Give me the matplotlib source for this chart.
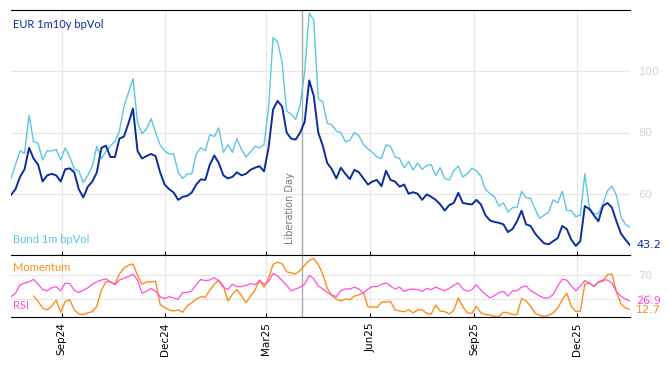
import numpy as np
import pandas as pd
import matplotlib
matplotlib.use("Agg")
import matplotlib.pyplot as plt
import matplotlib.dates as mdates

# sample dates (every 4 days)
dates = pd.date_range("2024-07-18", periods=138, freq="4D")

eur_vol = [59.6, 61.5, 65.5, 68, 75, 71.5, 69.5, 64, 66, 66.5,
           66, 64, 68, 68.3, 67, 61.5, 58.8, 62.3, 64, 67,
           75, 75.7, 72, 72, 78, 78.7, 83, 87.8, 74, 71.5,
           72.3, 73, 72.3, 67, 63, 61.5, 60.4, 58, 59, 59.3,
           60.4, 63, 64.7, 64.5, 69.5, 72.5, 70, 66, 65, 65.5,
           67, 66, 66.5, 67.8, 68.5, 69, 67.3, 75, 87.5, 90.3,
           88.5, 80, 78, 77.7, 80, 83.5, 97, 92, 80, 75.7,
           70, 68, 65, 68.5, 66.5, 64.8, 67.8, 67, 65, 63,
           64, 64.5, 62.5, 67.5, 64.5, 64, 62.3, 63, 60, 60.5,
           60, 58, 59.8, 59, 58, 56.5, 54.5, 56.3, 57, 60.3,
           57, 56.7, 56.5, 58, 56.5, 53, 51.3, 50.8, 50.5, 50,
           47.5, 48.5, 51, 54.5, 50, 49.5, 47, 45.3, 43.8, 43.5,
           44.5, 45.5, 49.5, 48.5, 45, 43, 44.5, 56, 55, 53,
           51, 56, 57, 55.5, 51, 47, 45, 43.2]

bund_vol = [65, 69.5, 74, 73.2, 85.6, 77, 76.5, 71, 74, 74,
            74.5, 71, 75, 72, 68, 67.5, 63.7, 66, 69, 75.5,
            71.4, 73.8, 75.7, 77, 80.5, 88.5, 93, 97.6, 83.4, 79.6,
            81.2, 84.5, 80, 76, 74, 73, 73, 67, 65, 66.5,
            66.5, 73, 75, 74, 79.3, 78.7, 81.5, 73.5, 76, 73.5,
            78, 74.5, 72, 73.6, 75.5, 75, 76, 88, 111, 109.6,
            103, 87, 86, 84.3, 89, 100, 119, 116.7, 91, 90,
            83, 82.5, 80.5, 80, 77, 77.5, 80, 79, 76, 74.6,
            73.5, 72, 71.5, 76, 75.5, 72, 71.5, 68.5, 70.5, 67.8,
            70, 68, 69.2, 69.5, 66, 68.5, 65, 64.5, 67.5, 69,
            65.5, 66.5, 68.3, 67.5, 65.7, 61.5, 60, 59, 56, 57,
            54, 55.5, 55.5, 60.8, 58.7, 58.5, 55, 52, 53, 54,
            58, 57, 60.8, 54.5, 54.5, 52.5, 53, 66.5, 55.5, 53.5,
            53.5, 56.5, 61, 62.5, 59.5, 52.5, 50, 49]

rsi = [34, 40, 54, 57, 59, 63, 55, 46, 44, 49,
       51, 44, 57, 56, 45, 41, 45, 49, 55, 59,
       62, 64, 59, 54, 62, 65, 68, 72, 62, 40,
       43, 48, 43, 34, 31, 34, 32, 30, 41, 41,
       44, 54, 63, 61, 62, 66, 60, 50, 46, 55,
       51, 51, 53, 56, 54, 61, 55, 59, 73, 69,
       61, 53, 44, 47, 50, 55, 70, 64, 52, 47,
       41, 37, 34, 44, 47, 47, 50, 47, 40, 47,
       51, 51, 55, 57, 52, 47, 50, 43, 46, 47,
       46, 43, 48, 46, 50, 47, 44, 48, 53, 57,
       47, 43, 46, 54, 45, 38, 32, 36, 41, 43,
       35, 44, 44, 50, 52, 44, 40, 35, 32, 32,
       38, 52, 63, 62, 52, 44, 52, 61, 57, 51,
       59, 62, 62, 57, 42, 35, 30, 26.9]

momentum = [np.nan, np.nan, np.nan, np.nan, np.nan, 35, 26, 15, 12, 18,
            28, 8, 26, 29, 12, 5, 4, 7, 9, 18,
            45, 59, 59, 55, 72, 82, 87, 89, 70, 55,
            59, 59, 60, 21, 16, 12, 10, 12, 8, 19,
            24, 30, 34, 33, 45, 55, 62, 52, 27, 38,
            46, 36, 24, 35, 45, 62, 50, 65, 88, 92,
            89, 76, 74, 72, 78, 87, 95, 98, 88, 72,
            48, 36, 30, 27, 30, 29, 35, 37, 41, 17,
            17, 16, 25, 25, 26, 12, 10, 9, 12, 7,
            12, 12, 6, 5, 20, 10, 9, 5, 11, 32,
            17, 7, 6, 18, 7, 4, 3, 1, 1, 8,
            7, 4, 4, 31, 27, 18, 6, 3, 1, 3,
            7, 15, 29, 40, 18, 9, 10, 55, 57, 52,
            58, 60, 71, 72, 42, 22, 15, 12.7]

event_date = pd.Timestamp("2025-04-02")

c_eur = "#0b2d9e"
c_bund = "#5cc6e0"
c_mom = "#ff8c1a"
c_rsi = "#ff4fd6"
c_grid = "#e6e6e6"
c_lab = "#d4d4d4"
txt_font = ["Lato", "DejaVu Sans"]

fig = plt.figure(figsize=(6.68, 3.66), dpi=100)
ax = fig.add_axes([11 / 668, 111 / 366, 619 / 668, 245 / 366])
ax2 = fig.add_axes([11 / 668, 49 / 366, 619 / 668, 62 / 366], sharex=ax)

ax.plot(dates, bund_vol, color=c_bund, lw=1.0)
ax.plot(dates, eur_vol, color=c_eur, lw=1.4)
ax2.plot(dates, momentum, color=c_mom, lw=1.0)
ax2.plot(dates, rsi, color=c_rsi, lw=0.9)

for a in (ax, ax2):
    a.axvline(event_date, color="#aaaaaa", lw=1.0, zorder=1)
    a.grid(True, color=c_grid, lw=0.8)
    a.set_axisbelow(True)
    a.spines["left"].set_visible(False)
    a.spines["right"].set_visible(False)
    a.yaxis.tick_right()
    a.tick_params(axis="y", length=0, labelcolor=c_lab, labelsize=8, pad=6)
    a.tick_params(axis="x", direction="in", length=3, top=False)

ax.set_ylim(40, 120)
ax.set_yticks([60, 80, 100])
ax2.set_ylim(0, 104)
ax2.set_yticks([30, 70])

ax.set_xlim(pd.Timestamp("2024-07-18"), pd.Timestamp("2026-01-17"))
ax2.xaxis.set_major_locator(mdates.MonthLocator(bymonth=[3, 6, 9, 12]))
ax2.xaxis.set_major_formatter(mdates.DateFormatter("%b%y"))
plt.setp(ax.get_xticklabels(), visible=False)
ax2.tick_params(axis="x", labelsize=7.5, rotation=90, pad=4)

ax.text(0.003, 0.94, "EUR 1m10y bpVol", transform=ax.transAxes, color=c_eur,
        fontsize=8, family=txt_font, va="center")
ax.text(0.003, 0.062, "Bund 1m bpVol", transform=ax.transAxes, color=c_bund,
        fontsize=8, family=txt_font, va="center")
ax.text(event_date - pd.Timedelta(days=11), 43.5, "Liberation Day", rotation=90,
        color="#777777", fontsize=7, ha="center", va="bottom")
ax.text(1.01, 43.2, f"{eur_vol[-1]:.1f}", transform=ax.get_yaxis_transform(),
        color=c_eur, fontsize=8, va="center")

ax2.text(0.003, 0.8, "Momentum", transform=ax2.transAxes, color=c_mom,
         fontsize=8, family=txt_font, va="center")
ax2.text(0.003, 0.18, "RSI", transform=ax2.transAxes, color=c_rsi,
         fontsize=8, family=txt_font, va="center")
ax2.text(1.01, 11.5, f"{momentum[-1]:.1f}", transform=ax2.get_yaxis_transform(),
         color=c_mom, fontsize=8, va="center")
ax2.text(1.01, 27.5, f"{rsi[-1]:.1f}", transform=ax2.get_yaxis_transform(),
         color=c_rsi, fontsize=8, va="center")

fig.savefig("out.png", dpi=100)
